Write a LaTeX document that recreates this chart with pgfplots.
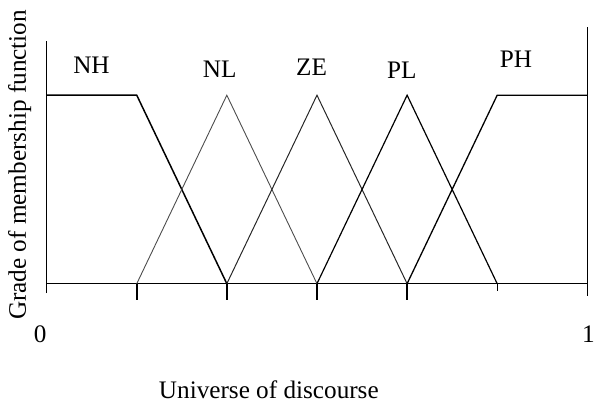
\documentclass[border=0pt]{standalone}
\usepackage{pgfplots}
\pgfplotsset{compat=1.18}
\usepackage{fontspec}
\setmainfont{Liberation Serif}
\begin{document}
\begin{tikzpicture}
\begin{axis}[
  x=545bp, y=190bp,
  xmin=-0.0862, xmax=1.011,
  ymin=-0.653, ymax=1.505,
  axis lines=none, ticks=none,
  clip=false,
  font=\fontsize{25.5}{30}\selectfont,
]
% keep the whole drawing area as the picture's extent
\path (axis cs:-0.0862,-0.653) rectangle (axis cs:1.011,1.505);
% frame lines
\addplot[black, line width=1.6bp] coordinates {(0,-0.05) (0,1.29)};
\addplot[black, line width=1.6bp] coordinates {(1,-0.063) (1,1.36)};
\addplot[black, line width=1.6bp] coordinates {(0,0) (1,0)};
% ticks
\addplot[black, line width=1.6bp] coordinates {(0.1667,0) (0.1667,-0.085)};
\addplot[black, line width=1.6bp] coordinates {(0.3333,0) (0.3333,-0.085)};
\addplot[black, line width=1.6bp] coordinates {(0.5,0) (0.5,-0.085)};
\addplot[black, line width=1.6bp] coordinates {(0.6667,0) (0.6667,-0.085)};
\addplot[black, line width=1.0bp] coordinates {(0.8333,0) (0.8333,-0.04)};
% membership functions
\addplot[black, line width=1.5bp] coordinates {(0,1) (0.1667,1) (0.3333,0)};        % NH
\addplot[black!70, line width=0.9bp] coordinates {(0.1667,0) (0.3333,1) (0.5,0)};   % NL
\addplot[black!85, line width=1.0bp] coordinates {(0.3333,0) (0.5,1) (0.6667,0)};   % ZE
\addplot[black, line width=1.2bp] coordinates {(0.5,0) (0.6667,1) (0.8333,0)};      % PL
\addplot[black, line width=1.3bp] coordinates {(0.6667,0) (0.8333,1) (1,1)};        % PH
% names of the fuzzy sets
\node at (axis cs:0.083,1.16) {NH};
\node at (axis cs:0.32,1.14) {NL};
\node at (axis cs:0.49,1.15) {ZE};
\node at (axis cs:0.657,1.13) {PL};
\node at (axis cs:0.868,1.19) {PH};
% end values
\node at (axis cs:-0.012,-0.27) {0};
\node at (axis cs:1.002,-0.27) {1};
% axis titles
\node[rotate=90] at (axis cs:-0.05,0.63) {Grade of membership function};
\node at (axis cs:0.411,-0.563) {Universe of discourse};
\end{axis}
\end{tikzpicture}
\end{document}
